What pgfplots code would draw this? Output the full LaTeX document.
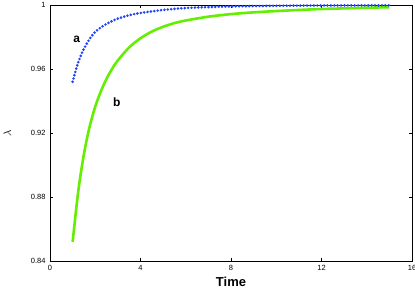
\documentclass[border=0pt]{standalone}
\usepackage{fontspec}
\setmainfont{Liberation Sans}
\usepackage{pgfplots}
\pgfplotsset{compat=1.18}
\definecolor{cblue}{RGB}{35,70,245}
\definecolor{cgreen}{RGB}{100,238,0}
\begin{document}
\begin{tikzpicture}
\begin{axis}[
  scale only axis, width=362pt, height=256pt,
  at={(0,0)}, anchor=south west,
  xmin=0, xmax=16, ymin=0.84, ymax=1,
  xtick={0,4,8,12,16},
  ytick={0.84,0.88,0.92,0.96,1},
  yticklabels={0.84,0.88,0.92,0.96,1},
  xticklabels={0,4,8,12,16},
  tick align=inside, major tick length=3pt,
  tick style={black, line width=0.6pt},
  axis line style={black, line width=0.8pt},
  tick label style={font=\fontsize{7.5}{8.5}\selectfont},
  /pgf/number format/assume math mode=true,
  xticklabel style={yshift=-1pt},
  yticklabel style={xshift=-1pt},
  xlabel={\textbf{Time}},
  xlabel style={font=\fontsize{13}{15}\selectfont, at={(axis description cs:0.5,-0.082)}, anchor=center},
  ylabel={$\lambda$},
  ylabel style={font=\fontsize{11}{13}\selectfont, at={(axis description cs:-0.118,0.5)}, anchor=center},
  clip=false,
]
\addplot[cgreen, line width=2.6pt, smooth] coordinates {
(1.0,0.852) (1.25,0.8837) (1.5,0.9069) (1.75,0.9239) (2.0,0.9365) (2.25,0.9461)
(2.5,0.9539) (2.75,0.9602) (3.0,0.9654) (3.5,0.9735) (4.0,0.9792) (4.5,0.9834)
(5.0,0.9864) (5.5,0.9887) (6.0,0.9903) (7.0,0.9927) (8.0,0.9943) (9.0,0.9954)
(10.0,0.9962) (11.0,0.9969) (12.0,0.9975) (13.0,0.9979) (14.0,0.9983) (15.0,0.9986)
};
\addplot[cblue, line width=2.9pt, line cap=round, dash pattern=on 0pt off 3.4pt, smooth] coordinates {
(1.0,0.952) (1.125,0.9585) (1.25,0.9642) (1.375,0.9688) (1.5,0.9726) (1.75,0.9788)
(2.0,0.9832) (2.25,0.9860) (2.5,0.9882) (2.75,0.9900) (3.0,0.9915) (3.5,0.9936)
(4.0,0.9950) (5.0,0.9969) (6.0,0.9981) (7.0,0.9987) (8.0,0.9991) (10,0.9995)
(12,0.9997) (15,0.9998)
};
\node[font=\fontsize{12}{14}\selectfont\bfseries] at (axis cs:1.18,0.9786) {a};
\node[font=\fontsize{12}{14}\selectfont\bfseries] at (axis cs:2.95,0.939) {b};
\end{axis}
\pgfresetboundingbox
\path[use as bounding box] (-50pt,-30pt) rectangle (365pt,261pt);
\end{tikzpicture}
\end{document}
